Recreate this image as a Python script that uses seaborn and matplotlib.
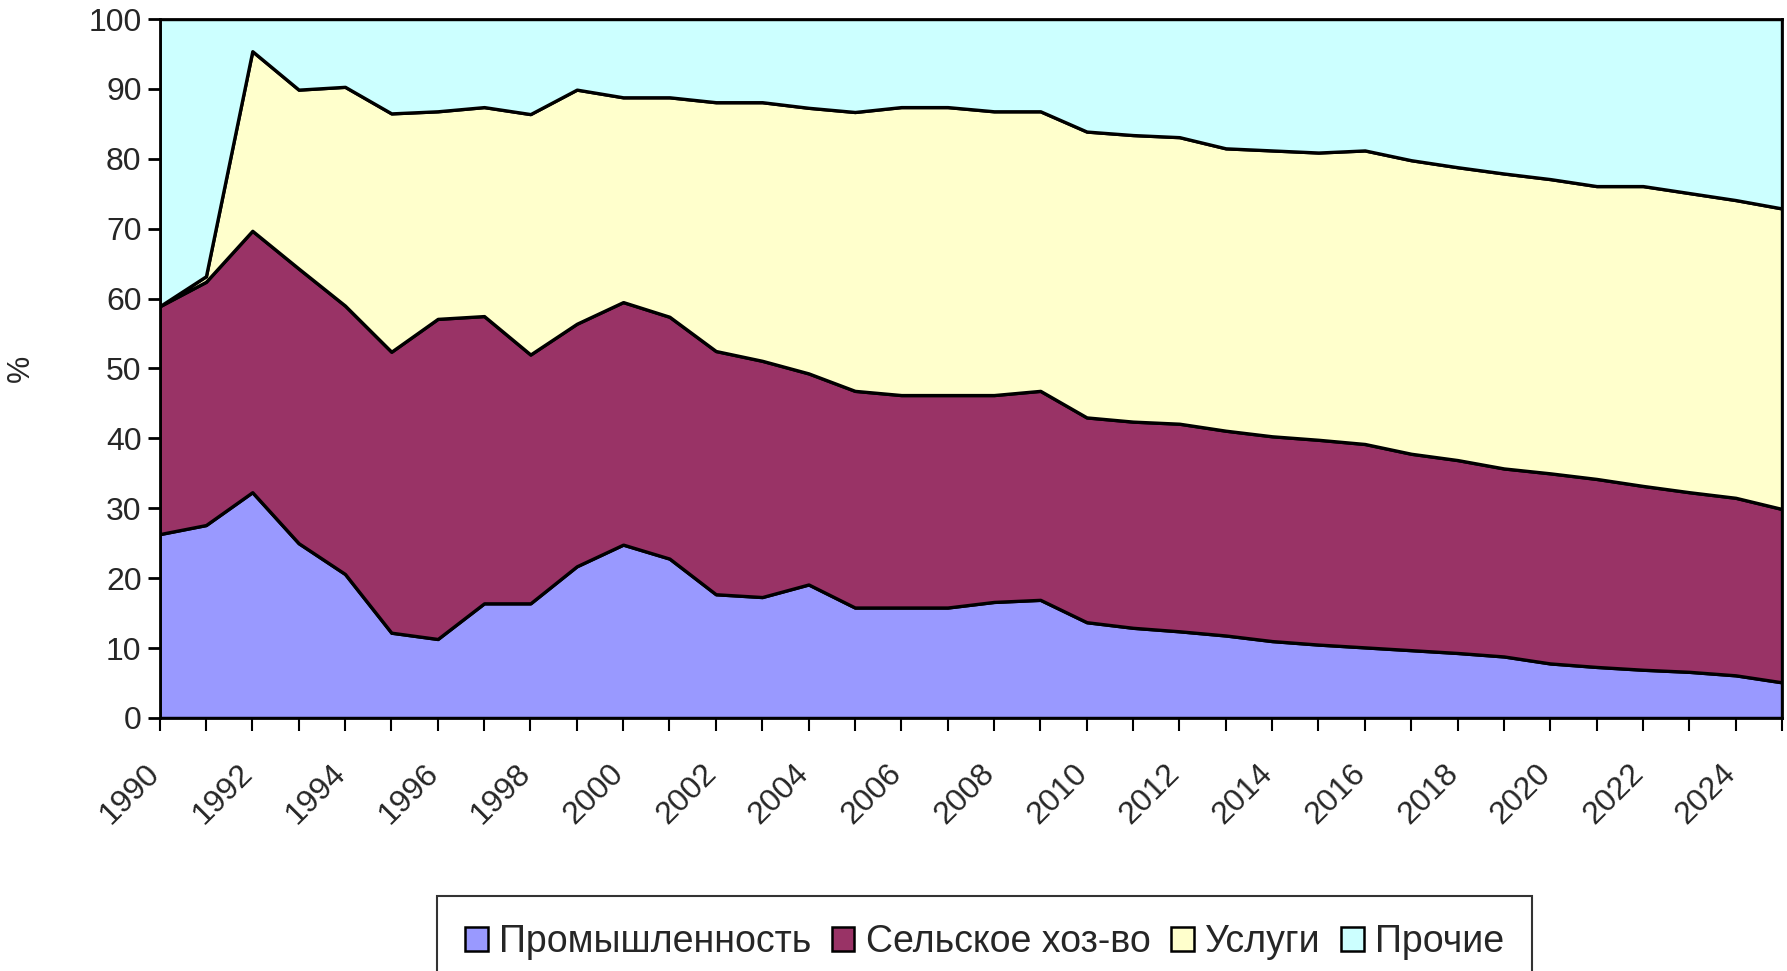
import numpy as np
import pandas as pd
import matplotlib
matplotlib.use("Agg")
import matplotlib.pyplot as plt
import matplotlib.transforms as mtransforms
from matplotlib.patches import Patch
import seaborn as sns

# ----------------- Data (shares, %) -----------------
years = list(range(1990, 2026))

industry = [26.3, 27.6, 32.3, 25.0, 20.6, 12.2, 11.3, 16.4, 16.4, 21.7,
            24.8, 22.8, 17.7, 17.3, 19.1, 15.8, 15.8, 15.8, 16.6, 16.9,
            13.7, 12.9, 12.4, 11.8, 11.0, 10.5, 10.1, 9.7, 9.3, 8.8,
            7.8, 7.3, 6.9, 6.6, 6.1, 5.1]

agriculture = [32.6, 34.8, 37.4, 39.3, 38.4, 40.2, 45.8, 41.1, 35.6, 34.7,
               34.7, 34.6, 34.8, 33.8, 30.2, 31.0, 30.4, 30.4, 29.6, 29.9,
               29.3, 29.5, 29.7, 29.3, 29.3, 29.3, 29.1, 28.1, 27.6, 26.9,
               27.2, 26.9, 26.3, 25.7, 25.4, 24.8]

services = [0.0, 0.8, 25.7, 25.6, 31.3, 34.1, 29.7, 29.9, 34.4, 33.5,
            29.3, 31.4, 35.6, 37.0, 38.0, 39.9, 41.2, 41.2, 40.6, 40.0,
            40.9, 41.0, 41.0, 40.4, 40.9, 41.1, 42.0, 42.0, 41.9, 42.2,
            42.1, 41.9, 42.9, 42.8, 42.6, 43.0]

other = [41.1, 36.8, 4.6, 10.1, 9.7, 13.5, 13.2, 12.6, 13.6, 10.1,
         11.2, 11.2, 11.9, 11.9, 12.7, 13.3, 12.6, 12.6, 13.2, 13.2,
         16.1, 16.6, 16.9, 18.5, 18.8, 19.1, 18.8, 20.2, 21.2, 22.1,
         22.9, 23.9, 23.9, 24.9, 25.9, 27.1]

labels = ["Промышленность", "Сельское хоз-во", "Услуги", "Прочие"]
colors = ["#9999FF", "#993366", "#FFFFCC", "#CCFFFF"]

df = pd.DataFrame({"year": years, labels[0]: industry, labels[1]: agriculture,
                   labels[2]: services, labels[3]: other})

# ----------------- Plot -----------------
sns.set_theme(style="ticks")
plt.rcParams["font.family"] = ["Liberation Sans", "DejaVu Sans"]

fig = plt.figure(figsize=(17.87, 9.71), dpi=100)
ax = fig.add_axes([0.0893, 0.2606, 0.9079, 0.7198])

ax.stackplot(df["year"], [df[c] for c in labels], colors=colors,
             edgecolor="black", linewidth=2.4)

ax.set_xlim(1990, 2025)
ax.set_ylim(0, 100)
ax.set_yticks(range(0, 101, 10))
ax.set_xticks(years)
ax.set_xticklabels([str(y) if (y - 1990) % 2 == 0 and y < 2025 else "" for y in years])

ax.tick_params(axis="y", labelsize=23, length=9, width=2, color="black", pad=4)
ax.tick_params(axis="x", labelsize=23, length=9, width=1.5, color="black", pad=28)
for lab in ax.get_xticklabels():
    lab.set_rotation(45)
    lab.set_ha("right")
    lab.set_va("center")
    lab.set_rotation_mode("anchor")
    lab.set_transform(lab.get_transform() +
                      mtransforms.ScaledTranslation(-0.04, 0, fig.dpi_scale_trans))

for s in ax.spines.values():
    s.set_visible(True)
    s.set_color("black")
    s.set_linewidth(2)

ax.set_ylabel("%", fontsize=22, labelpad=38)
ax.set_xlabel("")

handles = [Patch(facecolor=c, edgecolor="black", linewidth=1.8) for c in colors]
leg = fig.legend(handles, labels, loc="upper center", bbox_to_anchor=(0.551, 0.077),
                 ncol=4, fontsize=27, frameon=True, fancybox=False,
                 handlelength=0.6, handleheight=0.6, handletextpad=0.3,
                 columnspacing=0.55, borderpad=0.75, borderaxespad=0)
leg.get_frame().set_edgecolor("black")
leg.get_frame().set_linewidth(1.5)

fig.savefig("out.png", dpi=100)
